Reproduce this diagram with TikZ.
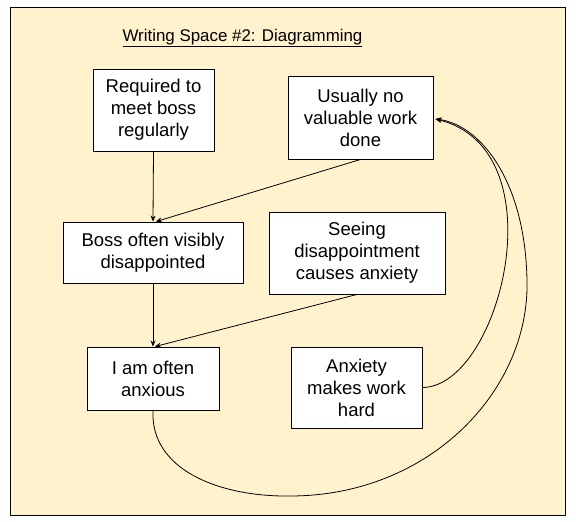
\documentclass[tikz,border=0pt]{standalone}
\usepackage{fontspec}
\setmainfont{Liberation Sans}
\usetikzlibrary{arrows.meta,calc}
\definecolor{bgyellow}{HTML}{FFF2CC}
\tikzset{
  box/.style={draw=black, fill=white, line width=0.9pt, align=center, inner sep=0pt,
    font=\fontsize{18.5}{22}\selectfont},
  conn/.style={draw=black, line width=0.8pt, -{Stealth[length=6pt,width=5pt]}},
}
\begin{document}
\begin{tikzpicture}[x=1pt,y=-1pt]
\useasboundingbox (0,0) rectangle (576,522);
\draw[fill=bgyellow, line width=1pt] (10,7) rectangle (565,515);
\node[font=\fontsize{16.9}{20}\selectfont] (title) at (242.5,38) {\underline{Writing Space \#2: Diagramming}};
\node[box, minimum width=121pt, minimum height=82pt] (req) at (153.5,110) {Required to\\meet boss\\regularly};
\node[box, minimum width=145pt, minimum height=83pt] (usual) at (360.5,117.5) {Usually no\\valuable work\\done};
\node[box, minimum width=180pt, minimum height=61pt] (boss) at (153,252.5) {Boss often visibly\\disappointed};
\node[box, minimum width=176pt, minimum height=82pt] (seeing) at (357,253) {Seeing\\disappointment\\causes anxiety};
\node[box, minimum width=132pt, minimum height=63pt] (iam) at (153,378.5) {I am often\\anxious};
\node[box, minimum width=131pt, minimum height=81pt] (anx) at (356.5,387.5) {Anxiety\\makes work\\hard};
\coordinate (bot) at (290,496);
\coordinate (rgt) at (527,280);
\draw[conn] (req.south) -- (boss.north);
\draw[conn] (usual.south) -- ($(boss.north)+(3,0)$);
\draw[conn] (boss.south) -- (iam.north);
\draw[conn] (seeing.south) -- ($(iam.north)+(2,0)$);
\draw[conn] (anx.east) .. controls (500,387) and (560,150) .. ($(usual.east)+(2,1.5)$);
\draw[conn] (iam.south) .. controls (150,470) and (220,497) .. (bot)
  .. controls (430,496) and (530,390) .. (rgt)
  .. controls (525,180) and (480,125) .. ($(usual.east)+(2,1.5)$);
\end{tikzpicture}
\end{document}
